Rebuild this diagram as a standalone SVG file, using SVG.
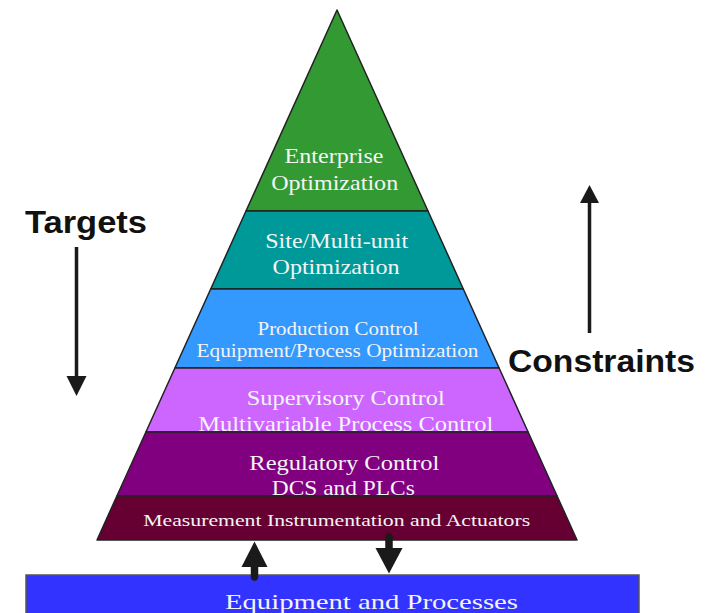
<svg xmlns="http://www.w3.org/2000/svg" width="710" height="613" viewBox="0 0 710 613">
  <style>
    .band { stroke: #222; stroke-width: 1.5; stroke-linejoin: round; }
    .lbl { font-family: "Liberation Serif", "Times New Roman", serif; fill: #f4f4f4; text-anchor: middle; }
    .big { font-size: 21px; }
    .mid { font-size: 18px; }
    .sml { font-size: 16px; }
    .side { font-family: "Liberation Sans", Arial, sans-serif; font-weight: bold; font-size: 31px; fill: #111; }
    .shaft { stroke: #1a1a1a; fill: none; }
    .head { fill: #1a1a1a; }
  </style>
  <rect width="710" height="613" fill="#ffffff"/>

  <g id="enterprise">
    <polygon class="band" fill="#339933" points="337,10 428,211 246,211"/>
    <text class="lbl big" x="334" y="163" textLength="99" lengthAdjust="spacingAndGlyphs">Enterprise</text>
    <text class="lbl big" x="334.7" y="190" textLength="127" lengthAdjust="spacingAndGlyphs">Optimization</text>
  </g>
  <g id="site">
    <polygon class="band" fill="#009999" points="246,211 428,211 463.3,289 210.7,289"/>
    <text class="lbl big" x="336.7" y="248" textLength="143" lengthAdjust="spacingAndGlyphs">Site/Multi-unit</text>
    <text class="lbl big" x="336" y="274" textLength="127" lengthAdjust="spacingAndGlyphs">Optimization</text>
  </g>
  <g id="production">
    <polygon class="band" fill="#3399ff" points="210.7,289 463.3,289 499.1,368 174.9,368"/>
    <text class="lbl mid" x="338" y="335" textLength="161" lengthAdjust="spacingAndGlyphs">Production Control</text>
    <text class="lbl mid" x="337.5" y="357" textLength="282" lengthAdjust="spacingAndGlyphs">Equipment/Process Optimization</text>
  </g>
  <g id="supervisory">
    <polygon class="band" fill="#cc66ff" points="174.9,368 499.1,368 528.1,432 145.9,432"/>
    <text class="lbl big" x="345.8" y="405" textLength="198" lengthAdjust="spacingAndGlyphs">Supervisory Control</text>
    <text class="lbl big" x="345.8" y="430.5" textLength="295" lengthAdjust="spacingAndGlyphs">Multivariable Process Control</text>
  </g>
  <g id="regulatory">
    <polygon class="band" fill="#800080" points="145.9,432 528.1,432 557.1,496 116.9,496"/>
    <text class="lbl big" x="344.3" y="470" textLength="190" lengthAdjust="spacingAndGlyphs">Regulatory Control</text>
    <text class="lbl big" x="343.3" y="494.5" textLength="143" lengthAdjust="spacingAndGlyphs">DCS and PLCs</text>
  </g>
  <g id="measurement">
    <polygon class="band" fill="#660033" points="116.9,496 557.1,496 577,540 97,540"/>
    <text class="lbl sml" x="336.7" y="526" textLength="387" lengthAdjust="spacingAndGlyphs">Measurement Instrumentation and Actuators</text>
  </g>

  <g id="equipment">
    <rect x="26" y="575" width="613" height="45" fill="#3333ff" stroke="#555" stroke-width="1.5"/>
    <text class="lbl big" x="371.5" y="608.5" textLength="293" lengthAdjust="spacingAndGlyphs">Equipment and Processes</text>
  </g>

  <g id="targets">
    <text class="side" x="25" y="233" textLength="122" lengthAdjust="spacingAndGlyphs">Targets</text>
  </g>
  <g id="constraints">
    <text class="side" x="508" y="372" textLength="187" lengthAdjust="spacingAndGlyphs">Constraints</text>
  </g>

  <g id="connectors">
    <line class="shaft" x1="76.5" y1="247" x2="76.5" y2="378" stroke-width="3.5"/>
    <polygon class="head" points="66.5,376 86.5,376 76.5,396"/>
    <line class="shaft" x1="589.5" y1="333" x2="589.5" y2="200" stroke-width="3.5"/>
    <polygon class="head" points="580,203 599,203 589.5,185"/>
    <line class="shaft" x1="254.5" y1="564" x2="254.5" y2="577" stroke-width="7.5" stroke-linecap="round"/>
    <polygon class="head" points="241.5,567 267.5,567 254.5,541.5"/>
    <line class="shaft" x1="389" y1="537" x2="389" y2="550" stroke-width="7.5" stroke-linecap="round"/>
    <polygon class="head" points="375.5,548 402.5,548 389,573.5"/>
  </g>
</svg>
